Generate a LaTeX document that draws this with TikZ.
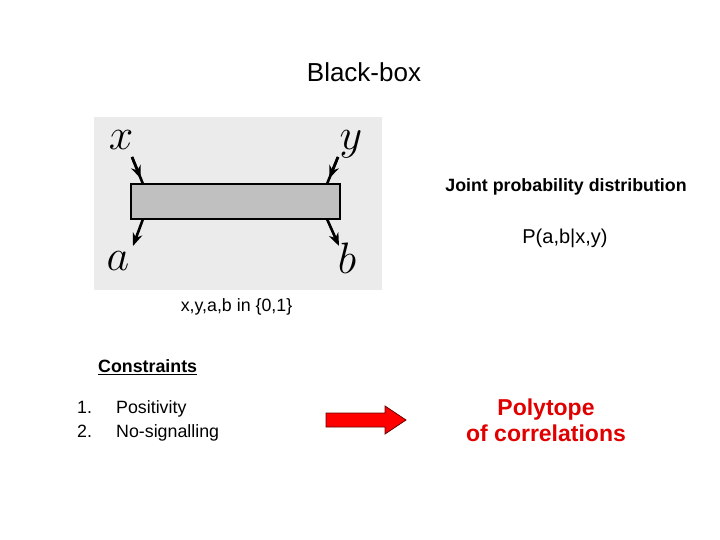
\documentclass[tikz,border=0pt]{standalone}
\usepackage{fix-cm}
\usepackage{fontspec}
\setmainfont{Liberation Sans}
\usetikzlibrary{arrows.meta,calc}
\definecolor{panelgray}{HTML}{EBEBEB}
\definecolor{bargray}{HTML}{C0C0C0}
\definecolor{polyred}{HTML}{E00000}
\tikzset{
  txt/.style={inner sep=0pt, anchor=center},
  mathlbl/.style={inner sep=0pt, anchor=center, font=\fontsize{44}{48}\selectfont},
  wire/.style={line width=2.6pt, black},
  wirearrow/.style={line width=2.6pt, black, -{Stealth[length=13pt,width=10pt]}},
}
\begin{document}
\begin{tikzpicture}[x=1pt,y=-1pt]
\useasboundingbox (0,0) rectangle (720,540);
% title
\node[txt, font=\fontsize{26}{30}\selectfont] (title) at (364,72) {Black-box};
% panel
\fill[panelgray] (94,117) rectangle (382,290);
\node[draw=black, line width=1.3pt, fill=bargray, minimum width=209pt, minimum height=35pt, inner sep=0pt] (bar) at (235.5,201.5) {};
% labels
\node[mathlbl] (lx) at (121,140) {$x$};
\node[mathlbl] (ly) at (351,144) {$y$};
\node[mathlbl] (la) at (118,261) {$a$};
\node[mathlbl] (lb) at (347,258) {$b$};
% wire coordinates
\coordinate (xs) at (132,157);
\coordinate (xe) at (143,184);
\coordinate (ys) at (338,157);
\coordinate (ye) at (327,184);
\coordinate (as) at (143,219);
\coordinate (ae) at (133,246);
\coordinate (bs) at (327,219);
\coordinate (be) at (339,246);
\draw[wire] (xs) -- (xe);
\draw[wirearrow] (xs) -- ($(xs)!0.8!(xe)$);
\draw[wire] (ys) -- (ye);
\draw[wirearrow] (ys) -- ($(ys)!0.8!(ye)$);
\draw[wirearrow] (as) -- (ae);
\draw[wirearrow] (bs) -- (be);
% right texts
\node[txt, font=\fontsize{17.8}{20}\selectfont\bfseries] (joint) at (566,187) {Joint probability distribution};
\node[txt, font=\fontsize{20}{24}\selectfont] (prob) at (565,238) {P(a,b|x,y)};
\node[txt, font=\fontsize{17.8}{20}\selectfont] (vals) at (236.5,307) {x,y,a,b in \{0,1\}};
% constraints
\node[txt, anchor=west, font=\fontsize{17.8}{20}\selectfont\bfseries] (cons) at (98,366) {Constraints};
\draw[line width=1pt] (cons.south west) ++(0,1.5) -- ($(cons.south east)+(0,1.5)$);
\node[txt, anchor=west, font=\fontsize{17.8}{20}\selectfont] (c1) at (77,409) {\makebox[39pt][l]{1.}Positivity};
\node[txt, anchor=west, font=\fontsize{17.8}{20}\selectfont] (c2) at (77,433) {\makebox[39pt][l]{2.}No-signalling};
% red arrow
\draw[fill=red, draw=black!60!red, line width=0.8pt]
  (326,413) -- (385,413) -- (385,406) -- (406,420) -- (385,434) -- (385,427) -- (326,427) -- cycle;
% polytope
\node[txt, font=\fontsize{23}{26}\selectfont\bfseries, text=polyred, align=center] (poly) at (546,420) {Polytope\\of correlations};
\end{tikzpicture}
\end{document}
